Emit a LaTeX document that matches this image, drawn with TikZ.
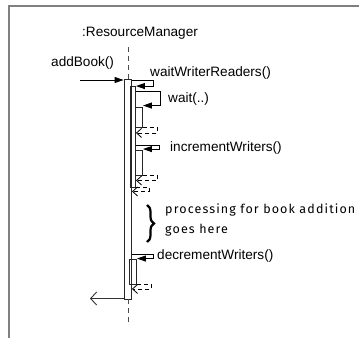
\documentclass[tikz,border=0pt]{standalone}
\usepackage{fontspec}
\setmainfont{Liberation Sans}
\newfontfamily\handfont[LetterSpace=9]{Fira Sans}
\usetikzlibrary{arrows.meta,calc,decorations.pathreplacing}

\tikzset{
  frameline/.style={draw=black!50, line width=2pt},
  lifeline/.style={draw=black!70, line width=0.9pt, dash pattern=on 5pt off 4pt},
  actbar/.style={draw=black!85, line width=0.9pt, rectangle, inner sep=0pt, anchor=center},
  call/.style={draw=black, line width=0.9pt, -{Triangle[length=9pt,width=6pt]}},
  ret/.style={draw=black, line width=0.8pt, dash pattern=on 4pt off 3pt, -{Straight Barb[length=5pt,width=9pt]}},
  backmsg/.style={draw=black!80, line width=0.9pt, -{Straight Barb[length=6pt,width=13pt]}},
  lbl/.style={anchor=west, inner sep=0pt, font=\fontsize{13.6}{16}\selectfont},
  note/.style={anchor=west, inner sep=0pt, font=\handfont\fontsize{12.5}{15}\selectfont},
}

\begin{document}
\begin{tikzpicture}[x=1pt, y=-1pt]
  \useasboundingbox (0,0) rectangle (359,338);

  % frame (top and left edges)
  \draw[frameline] (9,338) -- (9,6) -- (359,6);

  % object heading
  \node[lbl] (obj) at (82,33) {:ResourceManager};

  % activation bars
  \node[actbar, minimum width=7.5pt, minimum height=220pt] (A) at (127.75,189) {};
  \node[actbar, minimum width=5pt,   minimum height=101pt] (B) at (133,136.5) {};
  \node[actbar, minimum width=7pt,   minimum height=20pt]  (C) at (139,117) {};
  \node[actbar, minimum width=7pt,   minimum height=25pt]  (D) at (139,162.5) {};
  \node[actbar, minimum width=7.5pt, minimum height=24.5pt] (E) at (132.75,271.75) {};

  % lifeline
  \coordinate (lltop) at (128,47);
  \coordinate (llbot) at (128,324);
  \draw[lifeline] (lltop) -- (lltop |- A.north);
  \draw[lifeline] (llbot |- A.south) -- (llbot);

  % incoming call
  \coordinate (caller) at (80,80);
  \node[lbl] (addlbl) at (51,63) {addBook()};
  \draw[call] (caller) -- (caller -| A.west);

  % waitWriterReaders()
  \node[lbl] (wwrlbl) at (150,73) {waitWriterReaders()};
  \draw[call] ($(A.north east)+(0,2)$) -- ++(21.5,0) -- ++(0,5.5) coordinate (w1) -- (w1 -| B.east);

  % wait(..)
  \node[lbl] (waitlbl) at (168,99) {wait(..)};
  \draw[call] ($(B.north east)+(0,6)$) -- ++(24,0) -- ++(0,14) coordinate (w2) -- (w2 -| C.east);
  \draw[ret] (C.south east) -- ++(14.5,0) -- ++(0,5.5) coordinate (r2) -- (r2 -| B.east);

  % incrementWriters()
  \node[lbl] (inclbl) at (170,148) {incrementWriters()};
  \draw[call] ($(B.north east)+(0,60)$) -- ++(23,0) -- ++(0,3.5) coordinate (w3) -- (w3 -| D.east);
  \draw[ret] (D.south east) -- ++(14.5,0) -- ++(0,5) coordinate (r3) -- (r3 -| B.east);

  % return of waitWriterReaders()
  \draw[ret] (B.south east) -- ++(13,0) -- ++(0,4) coordinate (r1) -- (r1 -| A.east);

  % note
  \draw[line width=2.2pt, decorate, decoration={brace, amplitude=7pt}] (147,205) -- (147,242);
  \node[note] (note1) at (165,210) {processing for book addition};
  \node[note] (note2) at (165,230) {goes here};

  % decrementWriters()
  \node[lbl] (declbl) at (157,256) {decrementWriters()};
  \draw[call] ($(A.north east)+(0,176)$) -- ++(21.5,0) -- ++(0,4) coordinate (w4) -- (w4 -| E.east);
  \draw[ret] (E.south east) -- ++(14.5,0) -- ++(0,4.5) coordinate (r4) -- (r4 -| A.east);

  % reply to caller
  \coordinate (back) at (90,298.5);
  \draw[backmsg] (back -| A.west) -- (back);
\end{tikzpicture}
\end{document}
